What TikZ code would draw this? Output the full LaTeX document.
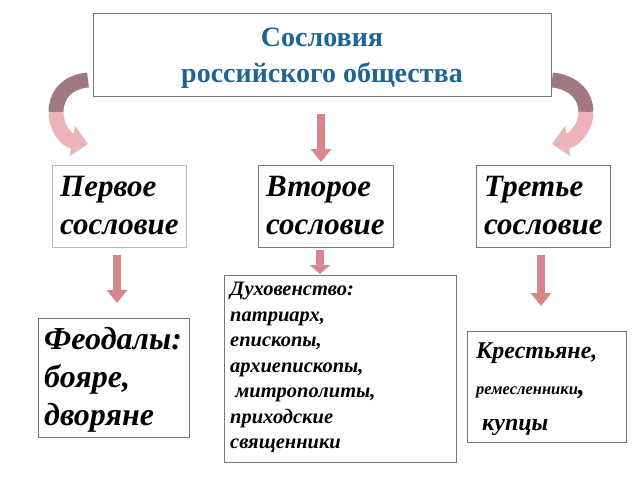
\documentclass[tikz,border=0pt]{standalone}
\usepackage{fontspec}
\setmainfont{Liberation Serif}
\usetikzlibrary{arrows.meta}
\definecolor{titleblue}{RGB}{31,100,150}
\definecolor{arr}{RGB}{215,135,140}
\definecolor{darkarr}{RGB}{160,122,128}
\definecolor{lightarr}{RGB}{236,180,185}
\definecolor{bordgrey}{RGB}{120,120,120}
\definecolor{bordblue}{RGB}{175,190,205}
\tikzset{
 box/.style={draw=bordgrey,line width=1pt,fill=white},
 txt/.style={font=\bfseries\itshape,align=left,anchor=north west,inner sep=0pt},
 down/.style={arr,line width=8pt,-{Triangle[width=20pt,length=13pt]}},
 curvdark/.style={darkarr,line width=15pt},
 curvlight/.style={lightarr,line width=15pt,-{Triangle[width=30pt,length=16pt]}},
}
\begin{document}
\begin{tikzpicture}[x=1pt,y=-1pt]
\useasboundingbox (0,0) rectangle (640,480);
% curved arrows
\coordinate (l1) at (88,80); \coordinate (l2) at (56,112); \coordinate (l3) at (88,144);
\draw[curvdark] (l1) .. controls (66,82) and (56,96) .. (l2);
\draw[curvlight] (l2) .. controls (56,128) and (66,140) .. (l3);
\coordinate (r1) at (552,80); \coordinate (r2) at (586,112); \coordinate (r3) at (552,144);
\draw[curvdark] (r1) .. controls (574,82) and (586,96) .. (r2);
\draw[curvlight] (r2) .. controls (586,128) and (574,140) .. (r3);
% boxes
\draw[box] (93,13) rectangle (551,96);
\node[font=\bfseries\fontsize{28}{36}\selectfont,text=titleblue,align=center] (t) at (322,58) {Сословия\\ российского общества};
\draw[box,draw=bordblue] (52,165) rectangle (186,247);
\node[txt,font=\bfseries\itshape\fontsize{31}{38}\selectfont] (b1) at (60,176) {Первое\\сословие};
\draw[box] (258,165) rectangle (393,247);
\node[txt,font=\bfseries\itshape\fontsize{31}{38}\selectfont] (b2) at (266,176) {Второе\\сословие};
\draw[box] (476,165) rectangle (610,247);
\node[txt,font=\bfseries\itshape\fontsize{31}{38}\selectfont] (b3) at (484,176) {Третье\\сословие};
\draw[box] (38,318) rectangle (189,437);
\node[txt,font=\bfseries\itshape\fontsize{32}{38}\selectfont] (b4) at (44,327) {Феодалы:\\бояре,\\дворяне};
\draw[box] (224,275) rectangle (456,462);
\node[txt,font=\bfseries\itshape\fontsize{20.5}{25.5}\selectfont] (b5) at (230,282) {Духовенство:\\патриарх,\\епископы,\\архиепископы,\\ \ митрополиты,\\приходские\\священники};
\draw[box] (467,331) rectangle (626,442);
\node[txt,font=\bfseries\itshape\fontsize{24}{36}\selectfont] (b6) at (476,343) {Крестьяне,\\{\fontsize{16.5}{36}\selectfont ремесленники}{\fontsize{28}{36}\selectfont ,}\\ \ купцы};
% straight arrows
\coordinate (a1) at (321,114); \coordinate (a1e) at (321,162);
\draw[down] (a1) -- (a1e);
\coordinate (a2) at (117,255); \coordinate (a2e) at (117,303);
\draw[down] (a2) -- (a2e);
\coordinate (a3) at (320,250); \coordinate (a3e) at (320,274);
\draw[down,-{Triangle[width=20pt,length=9pt]}] (a3) -- (a3e);
\coordinate (a4) at (541,255); \coordinate (a4e) at (541,306);
\draw[down] (a4) -- (a4e);
\end{tikzpicture}
\end{document}
